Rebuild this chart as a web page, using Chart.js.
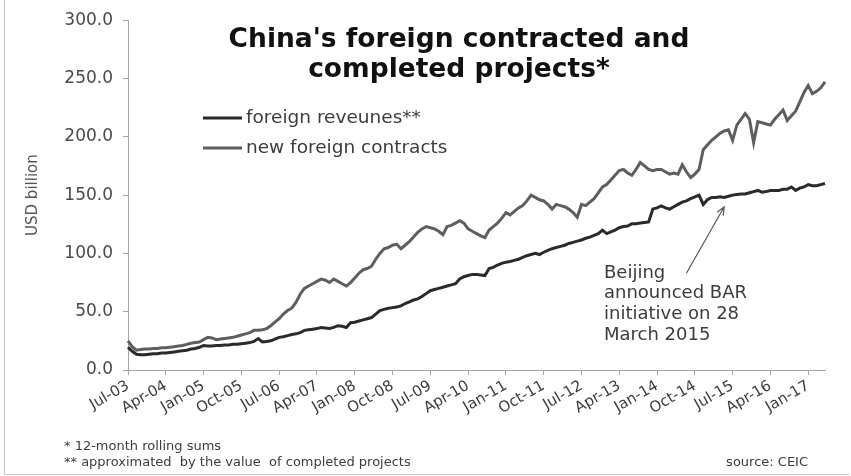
<!DOCTYPE html>
<html>
<head>
<meta charset="utf-8">
<title>China's foreign contracted and completed projects</title>
<script src="https://cdn.jsdelivr.net/npm/chart.js@4.4.0/dist/chart.umd.min.js"></script>
<style>
  html, body { margin: 0; padding: 0; background: #fff; }
  #wrap { position: relative; width: 851px; height: 476px; }
</style>
</head>
<body>
<div id="wrap"><canvas id="chart" width="851" height="476"></canvas></div>
<script>
// 12-month rolling sums, USD bn, monthly from Jul-03 to May-17
const monthNames = ['Jan', 'Feb', 'Mar', 'Apr', 'May', 'Jun', 'Jul', 'Aug', 'Sep', 'Oct', 'Nov', 'Dec']
const firstYear = 2003
const firstMonth = 6 // Jul
const tickEvery = 9 // a label every 9 months

const revenues = [
  19.5, 16, 13.5, 13, 13, 13.5, 14, 14, 14.5, 14.5, 15, 15.5,
  16, 16.5, 17, 18, 18.5, 19.5, 21, 20.5, 20.5, 21, 21, 21.5,
  21.5, 22, 22, 22.5, 23, 23.5, 24.5, 27, 24, 24.5, 25, 26.5,
  28, 28.5, 29.5, 30.5, 31, 32, 34, 34.5, 35, 35.5, 36.5, 36,
  35.6, 36.5, 38, 37.5, 36.5, 40.5, 41, 42, 43, 44, 45, 48,
  51, 52, 53, 53.5, 54, 55, 57, 58.5, 60, 61, 63, 65.5,
  68, 69, 70, 71, 72, 73, 74, 78, 80, 81, 82, 82,
  81.5, 81, 87, 88, 90, 91.5, 92.5, 93, 94, 95, 96.5, 98,
  99, 100, 99, 101, 102.5, 104, 105, 106, 107, 108.5, 109.5, 110.5,
  111.5, 113, 114, 115.5, 117, 120, 117, 118.5, 120, 122, 123, 123.5,
  125.5, 125.5, 126, 126.5, 127, 138, 139, 140.7, 139, 138, 140, 142,
  144, 145, 147, 148.5, 150, 142, 146, 148, 148, 148.5, 148, 149,
  150, 150.5, 151, 151, 152, 153, 154, 152.5, 153, 154, 154, 154,
  155, 155, 157, 154, 156, 157, 159, 158, 158, 159, 160
]

const contracts = [
  25, 20, 17, 17.5, 18, 18, 18.5, 18.5, 19, 19, 19.5, 20,
  20.5, 21, 22, 23, 23.5, 24, 26, 28, 27.5, 26, 26.5, 27,
  27.5, 28, 29, 30, 31, 32, 34, 34, 34.5, 35.5, 38, 41,
  44, 48, 51, 53, 58, 65, 70, 72, 74, 76, 78, 77,
  75, 78, 76, 74, 72, 75, 79, 83, 86, 87, 89, 95,
  100, 104, 105, 107, 108, 104, 107, 110, 114, 118, 121, 123,
  122, 121, 119, 116, 123, 124, 126, 128, 126, 121, 119, 117,
  115, 113.5, 120, 123, 126, 130, 135, 133, 136, 139, 141, 145,
  150, 148, 146, 145, 142, 138, 142, 141, 140, 138, 135, 131,
  142, 141, 144, 147, 152, 157, 159, 163, 167, 171, 172, 169,
  167, 172, 178, 175, 172, 171, 172, 172, 170, 168, 169, 168,
  176, 170, 165, 168, 172, 189, 193, 197, 200, 203, 205, 206,
  197, 210, 215, 220, 215, 195, 213, 212, 211, 210, 215, 219,
  223, 214, 218, 222, 230, 238, 244, 237, 239, 242, 247
]

const seriesNames = ['foreign reveunes**', 'new foreign contracts']
const seriesColors = ['#2a2a2a', '#5e5e5e']
const titleLines = ["China's foreign contracted and", 'completed projects*']
const noteLines = ['Beijing', 'announced BAR', 'initiative on 28', 'March 2015']
const footnotes = ['* 12-month rolling sums', '** approximated  by the value  of completed projects']
const sourceText = 'source: CEIC'

// month labels like "Jul-03"
const labels = revenues.map((_, i) => {
  const m = firstMonth + i
  const yr = firstYear + Math.floor(m / 12)
  return monthNames[m % 12] + '-' + String(yr % 100).padStart(2, '0')
})

const FONT = '"DejaVu Sans", sans-serif'
const axisGrey = '#a6a6a6'

const overlay = {
  id: 'overlay',
  afterDraw(chart) {
    const { ctx } = chart
    const { x, y } = chart.scales
    ctx.save()

    // outer frame (left + bottom)
    ctx.strokeStyle = '#c4c4c4'
    ctx.lineWidth = 1
    ctx.beginPath()
    ctx.moveTo(4.5, 0)
    ctx.lineTo(4.5, 474.5)
    ctx.lineTo(849, 474.5)
    ctx.stroke()

    // title
    ctx.fillStyle = '#111'
    ctx.font = 'bold 26.5px ' + FONT
    ctx.textAlign = 'center'
    ctx.textBaseline = 'alphabetic'
    titleLines.forEach((t, i) => ctx.fillText(t, 459, 47 + i * 30))

    // legend
    ctx.font = '18.5px ' + FONT
    ctx.textAlign = 'left'
    ctx.textBaseline = 'middle'
    chart.data.datasets.forEach((ds, i) => {
      const ly = 118 + i * 30
      ctx.strokeStyle = ds.borderColor
      ctx.lineWidth = 3
      ctx.beginPath()
      ctx.moveTo(203, ly)
      ctx.lineTo(242, ly)
      ctx.stroke()
      ctx.fillStyle = '#3c3c3c'
      ctx.fillText(ds.label, 246, ly)
    })

    // annotation
    ctx.font = '18px ' + FONT
    ctx.fillStyle = '#3c3c3c'
    noteLines.forEach((t, i) => ctx.fillText(t, 604, 273 + i * 20.7))

    const hx = x.getPixelForValue(142), hy = y.getPixelForValue(140)
    const tx = x.getPixelForValue(133), ty = y.getPixelForValue(83)
    const ang = Math.atan2(hy - ty, hx - tx)
    ctx.strokeStyle = '#555'
    ctx.lineWidth = 1.2
    ctx.beginPath()
    ctx.moveTo(tx, ty)
    ctx.lineTo(hx, hy)
    ctx.moveTo(hx - 9 * Math.cos(ang - 0.4), hy - 9 * Math.sin(ang - 0.4))
    ctx.lineTo(hx, hy)
    ctx.lineTo(hx - 9 * Math.cos(ang + 0.4), hy - 9 * Math.sin(ang + 0.4))
    ctx.stroke()

    // footnotes and source
    ctx.font = '13px ' + FONT
    ctx.fillStyle = '#3c3c3c'
    footnotes.forEach((t, i) => ctx.fillText(t, 64, 447 + i * 16))
    ctx.textAlign = 'right'
    ctx.fillText(sourceText, 808, 463)

    ctx.restore()
  }
}

new Chart(document.getElementById('chart'), {
  type: 'line',
  data: {
    labels: labels,
    datasets: [
      { label: seriesNames[0], data: revenues, borderColor: seriesColors[0], borderWidth: 3, pointRadius: 0, tension: 0 },
      { label: seriesNames[1], data: contracts, borderColor: seriesColors[1], borderWidth: 3, pointRadius: 0, tension: 0 }
    ]
  },
  options: {
    responsive: false,
    animation: false,
    devicePixelRatio: 1,
    layout: { padding: { left: 0, right: 26, top: 16, bottom: 0 } },
    plugins: { legend: { display: false }, tooltip: { enabled: false } },
    scales: {
      x: {
        type: 'category',
        offset: false,
        border: { color: axisGrey, width: 1 },
        grid: {
          drawOnChartArea: false,
          drawTicks: true,
          tickLength: 5,
          tickColor: c => (c.index % tickEvery === 0 ? axisGrey : 'rgba(0,0,0,0)')
        },
        ticks: {
          autoSkip: false,
          minRotation: 30,
          maxRotation: 30,
          padding: 2,
          color: '#3c3c3c',
          font: { family: FONT, size: 15 },
          callback: (v, i) => (i % tickEvery === 0 ? labels[i] : '')
        },
        afterFit: s => { s.height = 106 }
      },
      y: {
        min: 0,
        max: 300,
        border: { color: axisGrey, width: 1 },
        grid: { drawOnChartArea: false, drawTicks: true, tickLength: 5, tickColor: axisGrey },
        ticks: {
          stepSize: 50,
          padding: 10,
          color: '#4a4a4a',
          font: { family: FONT, size: 17 },
          callback: v => v.toFixed(1)
        },
        title: {
          display: true,
          text: 'USD billion',
          color: '#555',
          font: { family: FONT, size: 15 },
          padding: { top: 24, bottom: 0 }
        },
        afterFit: s => { s.width = 128 }
      }
    }
  },
  plugins: [overlay]
})
</script>
</body>
</html>
